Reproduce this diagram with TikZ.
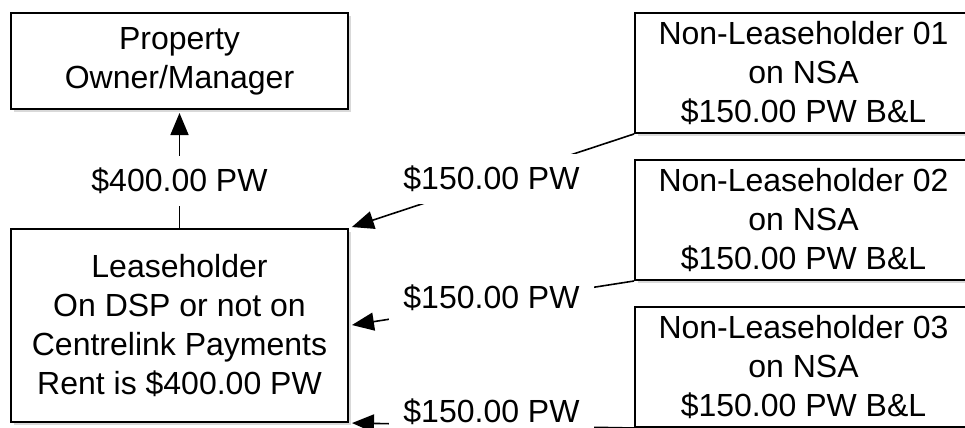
\documentclass[tikz,border=0pt]{standalone}
\usepackage{fontspec}
\setmainfont{Liberation Sans}
\usetikzlibrary{arrows.meta,positioning,shadows}

\begin{document}
\begin{tikzpicture}[
  x=0.5pt, y=-0.5pt,
  font=\fontsize{16pt}{19.5pt}\selectfont,
  box/.style={draw, line width=1pt, fill=white, minimum width=168.5pt,
              align=center, inner sep=2pt,
              drop shadow={opacity=0.3, shadow xshift=1.5pt, shadow yshift=-1.5pt}},
  owner/.style={box, minimum height=48pt},
  lease/.style={box, minimum height=96.5pt},
  nonlease/.style={box, minimum height=60pt},
  pay/.style={fill=white, inner xsep=7pt, inner ysep=6pt},
  arr/.style={-{Triangle[length=11pt, width=9pt]}, line width=0.8pt, shorten >=1.5pt}
]
\clip (0,0) rectangle (965,428);
\node[owner] (owner) at (179.5,61) {Property\\Owner/Manager};
\node[lease] (lease) at (179.5,325.5)
  {Leaseholder\\On DSP or not on\\Centrelink Payments\\Rent is \$400.00 PW};
\node[nonlease] (nl1) at (803.5,73) {Non-Leaseholder 01\\on NSA\\\$150.00 PW B\&L};
\node[nonlease, below=12.5pt of nl1] (nl2) {Non-Leaseholder 02\\on NSA\\\$150.00 PW B\&L};
\node[nonlease, below=12.5pt of nl2] (nl3) {Non-Leaseholder 03\\on NSA\\\$150.00 PW B\&L};

\draw[arr] (lease.north) -- node[pay, pos=0.4] {\$400.00 PW} (owner.south);
\draw[arr] (nl1.south west) -- node[pay, yshift=1pt] {\$150.00 PW} (lease.north east);
\draw[arr] (nl2.south west) -- node[pay, yshift=2.5pt] {\$150.00 PW} (lease.east);
\draw[arr] (nl3.south west) -- node[pay, inner ysep=0pt, text depth=5pt, yshift=5pt] {\$150.00 PW} (lease.south east);
\end{tikzpicture}
\end{document}
